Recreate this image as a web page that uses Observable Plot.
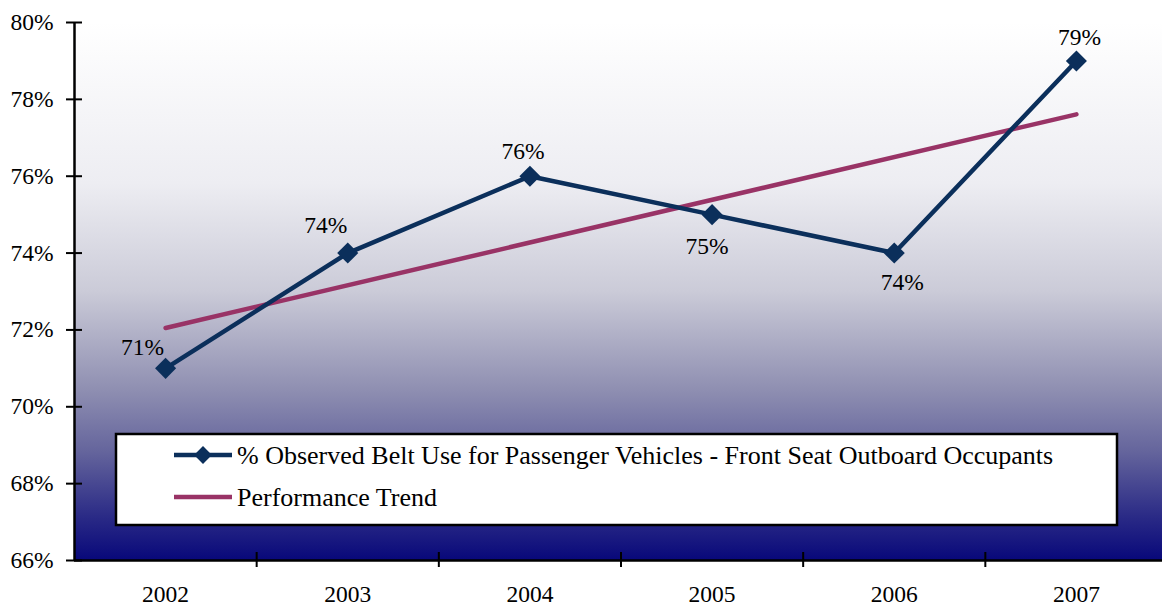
<!DOCTYPE html>
<html><head><meta charset="utf-8">
<script src="https://cdn.jsdelivr.net/npm/d3@7"></script>
<script src="https://cdn.jsdelivr.net/npm/@observablehq/plot@0.6"></script>
<style>body{margin:0;background:#fff;} #chart{position:relative;width:1162px;height:611px;overflow:hidden;}</style>
</head><body><div id="chart"></div>
<script>
// ---- data ----
const years = [2002, 2003, 2004, 2005, 2006, 2007];
const beltUse = [71, 74, 76, 75, 74, 79];
const trendYears = [2002, 2007];
const trendValues = [72.05, 77.61];
const yTicks = [66, 68, 70, 72, 74, 76, 78, 80];
const seriesName = "% Observed Belt Use for Passenger Vehicles - Front Seat Outboard Occupants";
const trendName = "Performance Trend";

// ---- build tables ----
const data = years.map((year, i) => ({year, value: beltUse[i], label: beltUse[i] + "%"}));
const trend = trendYears.map((year, i) => ({year, value: trendValues[i]}));
const boundaries = years.slice(1).map(y => y - 0.5);

const navy = "#0b2f5b";
const maroon = "#993366";
const font = "'Liberation Serif', 'Times New Roman', serif";
const fs = 23.5;

// label placement (style, not data)
const labelOffsets = [[-23, -21], [-22, -28], [-7, -25], [-5, 32], [8, 29], [3, -23]];

const plot = Plot.plot({
  width: 1162, height: 611,
  marginLeft: 74, marginRight: 0, marginTop: 22, marginBottom: 51,
  x: {type: "linear", domain: [2001.5, 2007.5], range: [74, 1167]},
  y: {domain: [66, 80], range: [560, 22]},
  style: {fontFamily: font, fontSize: fs + "px", color: "#000", background: "transparent", overflow: "visible"},
  marks: [
    Plot.line(trend, {x: "year", y: "value", stroke: maroon, strokeWidth: 4.5}),
    Plot.line(data, {x: "year", y: "value", stroke: navy, strokeWidth: 4.5}),
    Plot.dot(data, {x: "year", y: "value", symbol: "diamond2", r: 9.5, fill: navy, stroke: "none"}),
    ...data.map((d, i) => Plot.text([d], {x: "year", y: "value", text: "label", dx: labelOffsets[i][0], dy: labelOffsets[i][1], fontSize: fs, fill: "#000"})),
    Plot.ruleX([2001.5], {stroke: "#000", strokeWidth: 2.5}),
    Plot.ruleY([66], {stroke: "#000", strokeWidth: 2.5}),
    Plot.axisY(yTicks, {tickSize: 16, dx: 8, tickPadding: 13, tickFormat: d => d + "%", stroke: "#000", strokeWidth: 2, strokeOpacity: 1, label: null, fontSize: fs}),
    Plot.axisX(years, {tickSize: 0, tickPadding: 25, tickFormat: d => String(d), label: null, fontSize: fs}),
    Plot.axisX(boundaries, {tickSize: 15, dy: -8, tickFormat: () => "", label: null, stroke: "#000", strokeWidth: 2, strokeOpacity: 1})
  ]
});

document.getElementById("chart").appendChild(plot);

// ---- gradient background of the plot area ----
const svg = d3.select(plot);
const bg = svg.insert("g", "g");
const grad = bg.append("defs").append("linearGradient")
  .attr("id", "bgGrad").attr("x1", 0).attr("y1", 0).attr("x2", 0).attr("y2", 1);
[[0, "#ffffff"], [0.3, "#ededf2"], [0.5, "#cbcbd8"], [0.68, "#9090b2"], [0.8, "#64649c"], [0.92, "#2a2a86"], [1, "#08087a"]]
  .forEach(([o, c]) => grad.append("stop").attr("offset", o).attr("stop-color", c));
bg.append("rect").attr("x", 74).attr("y", 22).attr("width", 1093).attr("height", 538).attr("fill", "url(#bgGrad)");

// ---- legend ----
const lg = svg.append("g").attr("font-family", font).attr("font-size", 26).attr("text-anchor", "start");
lg.append("rect").attr("x", 116).attr("y", 434).attr("width", 1001).attr("height", 91)
  .attr("fill", "#fff").attr("stroke", "#000").attr("stroke-width", 2.5);
lg.append("line").attr("x1", 174).attr("x2", 232).attr("y1", 455).attr("y2", 455)
  .attr("stroke", navy).attr("stroke-width", 4.5);
lg.append("path").attr("d", d3.symbol(d3.symbolDiamond2, Math.PI * 8 * 8)())
  .attr("transform", "translate(203,455)").attr("fill", navy);
lg.append("line").attr("x1", 174).attr("x2", 232).attr("y1", 497).attr("y2", 497)
  .attr("stroke", maroon).attr("stroke-width", 4.5);
lg.append("text").attr("x", 237).attr("y", 455).attr("dy", "0.35em").text(seriesName);
lg.append("text").attr("x", 237).attr("y", 497).attr("dy", "0.35em").text(trendName);
</script>
</body></html>
